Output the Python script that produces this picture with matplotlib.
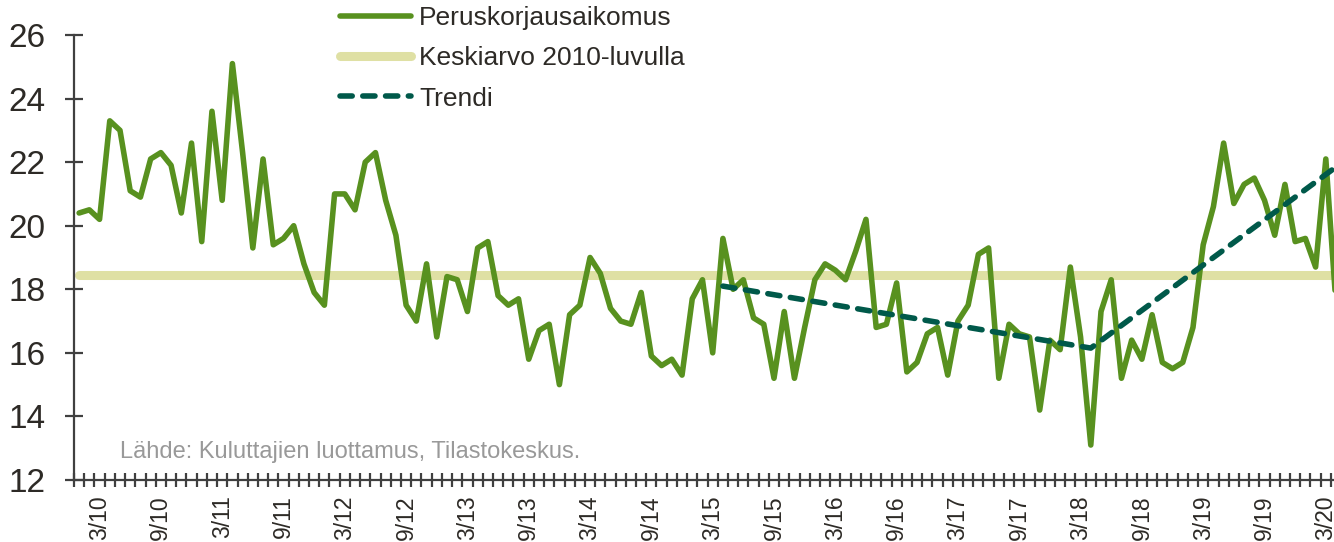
import numpy as np
import matplotlib
matplotlib.use('Agg')
from matplotlib import pyplot as plt

# kuukausittainen peruskorjausaikomus 1/10 - 4/20
arvot = [20.4, 20.5, 20.2, 23.3, 23.0, 21.1, 20.9, 22.1, 22.3, 21.9, 20.4, 22.6,
         19.5, 23.6, 20.8, 25.1, 22.3, 19.3, 22.1, 19.4, 19.6, 20.0, 18.8, 17.9,
         17.5, 21.0, 21.0, 20.5, 22.0, 22.3, 20.8, 19.7, 17.5, 17.0, 18.8, 16.5,
         18.4, 18.3, 17.3, 19.3, 19.5, 17.8, 17.5, 17.7, 15.8, 16.7, 16.9, 15.0,
         17.2, 17.5, 19.0, 18.5, 17.4, 17.0, 16.9, 17.9, 15.9, 15.6, 15.8, 15.3,
         17.7, 18.3, 16.0, 19.6, 18.0, 18.3, 17.1, 16.9, 15.2, 17.3, 15.2, 16.8,
         18.3, 18.8, 18.6, 18.3, 19.2, 20.2, 16.8, 16.9, 18.2, 15.4, 15.7, 16.6,
         16.8, 15.3, 17.0, 17.5, 19.1, 19.3, 15.2, 16.9, 16.6, 16.5, 14.2, 16.4,
         16.1, 18.7, 16.5, 13.1, 17.3, 18.3, 15.2, 16.4, 15.8, 17.2, 15.7, 15.5,
         15.7, 16.8, 19.4, 20.6, 22.6, 20.7, 21.3, 21.5, 20.8, 19.7, 21.3, 19.5,
         19.6, 18.7, 22.1, 17.5]
kuukaudet = [f"{(i % 12) + 1}/{10 + i // 12}" for i in range(len(arvot))]

keskiarvo = 18.45

trendi_kk = ['4/15', '4/18', '4/20']
trendi_arvot = [18.1, 16.15, 21.85]

tick_labels = ['3/10', '9/10', '3/11', '9/11', '3/12', '9/12', '3/13', '9/13',
               '3/14', '9/14', '3/15', '9/15', '3/16', '9/16', '3/17', '9/17',
               '3/18', '9/18', '3/19', '9/19', '3/20']

plt.rcParams['font.family'] = ['Liberation Sans', 'DejaVu Sans']
tekstin_vari = '#2d2a26'
akselin_vari = '#404040'

fig = plt.figure(figsize=(13.34, 5.42), dpi=100)
ax = fig.add_axes([74 / 1334, 62 / 542, 1 - 74 / 1334, 445 / 542])

x = np.arange(len(arvot))
l1, = ax.plot(x, arvot, color='#58911f', lw=4, solid_capstyle='round',
              label='Peruskorjausaikomus', zorder=3)
l2, = ax.plot(x, np.full(len(arvot), keskiarvo), color='#dfe0a4', lw=6.5,
              solid_capstyle='round', label='Keskiarvo 2010-luvulla', zorder=2)
tx = [kuukaudet.index(k) for k in trendi_kk]
l3, = ax.plot(tx, trendi_arvot, color='#00594a', lw=4, dashes=(2.2, 1.9),
              dash_capstyle='round', label='Trendi', zorder=4)

ax.set_xlim(-0.42, 122.8)
ax.set_ylim(12, 26)
ax.set_yticks(range(12, 27, 2))
ax.tick_params(axis='y', direction='inout', length=13, width=1.6, color=akselin_vari,
               labelsize=24, labelcolor=tekstin_vari, pad=14)

# kuukausien rajat ja nimiöt
ax.set_xticks(np.arange(-0.5, 123, 1))
ax.set_xticklabels([])
ax.tick_params(axis='x', which='major', direction='inout', length=10, width=1.6,
               color=akselin_vari)
ax.set_xticks([kuukaudet.index(k) for k in tick_labels], minor=True)
ax.set_xticklabels(tick_labels, minor=True, rotation=90, fontsize=16.5,
                   color=tekstin_vari)
ax.tick_params(axis='x', which='minor', length=0, pad=11)

for s in ['top', 'right']:
    ax.spines[s].set_visible(False)
for s in ['left', 'bottom']:
    ax.spines[s].set_color(akselin_vari)
    ax.spines[s].set_linewidth(1.6)
ax.spines['left'].set_bounds(12, 26)

ax.text(120 / 1334, 1 - 452 / 542, 'Lähde: Kuluttajien luottamus, Tilastokeskus.',
        transform=fig.transFigure, fontsize=17, color='#999999', va='center')

fig.legend(handles=[l1, l2, l3], loc='upper left',
           bbox_to_anchor=(340 / 1334, 1 - 6 / 542), frameon=False,
           fontsize=19, handlelength=2.7, handletextpad=0.3, labelspacing=0.62,
           borderpad=0, borderaxespad=0, labelcolor=tekstin_vari)

fig.savefig('out.png', dpi=100)
